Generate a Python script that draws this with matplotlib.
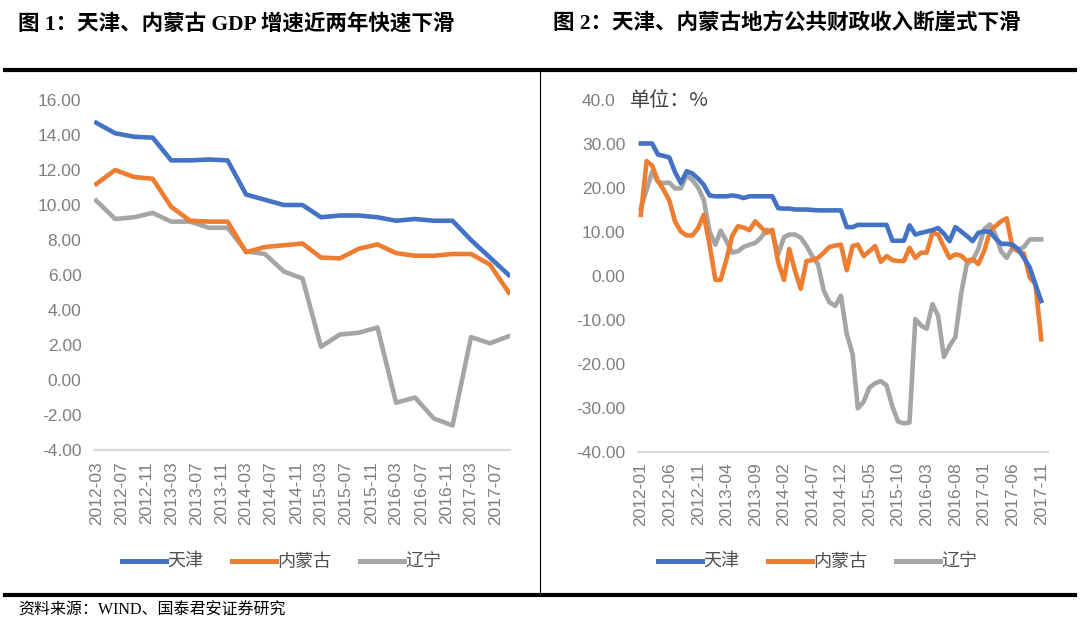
import numpy as np
import pandas as pd
import matplotlib
matplotlib.use('Agg')
import matplotlib.pyplot as plt
from matplotlib.lines import Line2D

plt.rcParams['font.family'] = ['Liberation Sans', 'Noto Sans CJK SC', 'DejaVu Sans']

BLUE = '#4472C4'
ORANGE = '#ED7D31'
GRAY = '#A5A5A5'
names = ['天津', '内蒙古', '辽宁']

# 图1: GDP 累计同比 (quarterly)
gdp_dates = pd.date_range('2012-03-01', '2017-09-01', freq='3MS')
gdp_tj = [14.7, 14.1, 13.9, 13.85, 12.55, 12.55, 12.6, 12.55, 10.6, 10.3, 10.0, 10.0,
          9.3, 9.4, 9.4, 9.3, 9.1, 9.2, 9.1, 9.1, 8.0, 7.0, 6.0]
gdp_nmg = [11.2, 12.0, 11.6, 11.5, 9.9, 9.1, 9.05, 9.05, 7.3, 7.6, 7.7, 7.8,
           7.0, 6.95, 7.5, 7.75, 7.25, 7.1, 7.1, 7.2, 7.2, 6.6, 5.0]
gdp_ln = [10.25, 9.2, 9.3, 9.55, 9.05, 9.05, 8.7, 8.7, 7.35, 7.2, 6.2, 5.8,
          1.9, 2.6, 2.7, 3.0, -1.3, -1.0, -2.2, -2.6, 2.45, 2.1, 2.5]
gdp_ticks = pd.date_range('2012-03-01', '2017-07-01', freq='4MS')
gdp_yticks = [-4, -2, 0, 2, 4, 6, 8, 10, 12, 14, 16]
gdp_ylabels = ['-4.00', '-2.00', '0.00', '2.00', '4.00', '6.00', '8.00',
               '10.00', '12.00', '14.00', '16.00']

# 图2: 地方公共财政收入累计同比 (monthly)
fis_dates = pd.date_range('2012-01-01', '2017-11-01', freq='MS')
fis_tj = [30.0, 30.0, 30.0, 27.5, 27.2, 26.8, 23.5, 21.0, 23.7, 23.2, 22.0, 20.6,
          18.2, 18.0, 18.0, 18.0, 18.2, 18.0, 17.6, 18.0, 18.0, 18.0, 18.0, 18.0,
          15.3, 15.2, 15.2, 15.0, 15.0, 15.0, 14.9, 14.8, 14.8, 14.8, 14.8, 14.8,
          11.0, 11.0, 11.5, 11.5, 11.5, 11.5, 11.5, 11.5, 7.9, 7.9, 7.9, 11.4,
          9.3, 9.7, 10.0, 10.3, 10.8, 9.5, 7.8, 11.0, 10.0, 9.0, 7.8, 9.7,
          10.0, 10.0, 8.5, 7.2, 7.2, 7.0, 6.0, 4.0, 1.8, -2.0, -5.8]
fis_nmg = [13.8, 26.0, 25.0, 21.5, 19.5, 17.0, 12.3, 10.0, 9.1, 9.1, 10.8, 13.8,
           7.0, -1.0, -1.0, 3.7, 9.0, 11.2, 10.9, 10.3, 12.3, 11.0, 9.7, 10.4,
           3.0, -1.0, 6.0, 1.0, -3.0, 3.3, 3.5, 4.0, 5.2, 6.5, 6.8, 7.0,
           1.2, 6.7, 7.0, 4.4, 5.5, 6.7, 3.1, 4.4, 3.5, 3.3, 3.3, 6.3,
           4.0, 5.2, 5.2, 9.7, 9.3, 6.5, 4.0, 4.8, 4.5, 3.3, 3.7, 2.6,
           5.5, 10.0, 11.2, 12.3, 13.0, 6.3, 5.5, 5.0, -0.5, -2.0, -14.5]
fis_ln = [15.3, 19.5, 23.6, 21.3, 21.0, 21.1, 19.8, 19.8, 22.8, 21.7, 20.0, 17.2,
          10.0, 7.0, 10.2, 7.8, 5.2, 5.5, 6.5, 7.0, 7.4, 8.6, 10.4, 9.7,
          4.8, 8.7, 9.3, 9.3, 8.6, 6.7, 4.4, 2.5, -3.5, -6.1, -6.9, -4.6,
          -13.3, -17.8, -30.2, -28.7, -25.5, -24.5, -24.0, -25.0, -29.8, -33.2, -33.6, -33.4,
          -9.9, -11.4, -12.1, -6.5, -9.1, -18.5, -16.0, -14.0, -4.0, 2.6, 3.5, 6.0,
          10.5, 11.6, 9.5, 5.5, 4.0, 6.3, 5.8, 6.5, 8.2, 8.2, 8.2]
fis_ticks = pd.date_range('2012-01-01', '2017-11-01', freq='5MS')
fis_yticks = [-40, -30, -20, -10, 0, 10, 20, 30, 40]
fis_ylabels = ['-40.00', '-30.00', '-20.00', '-10.00', '0.00', '10.00', '20.00',
               '30.00', '40.00']


def style_axis(ax, ticks, yticks, ylabels):
    for s in ['top', 'left', 'right']:
        ax.spines[s].set_visible(False)
    ax.spines['bottom'].set_color('#D9D9D9')
    ax.spines['bottom'].set_linewidth(1.5)
    ax.set_xticks(ticks)
    ax.set_xticklabels([t.strftime('%Y-%m') for t in ticks], rotation=90,
                       fontsize=12.5, color='#7F7F7F')
    ax.set_yticks(yticks)
    ax.set_yticklabels(ylabels, fontsize=12.5, color='#7F7F7F')
    ax.tick_params(axis='both', length=0)
    ax.tick_params(axis='x', pad=8)
    ax.tick_params(axis='y', pad=9)


def add_legend(ax, cx, cy):
    handles = [Line2D([], [], color=c, lw=3.6) for c in [BLUE, ORANGE, GRAY]]
    ax.legend(handles, names, loc='center', bbox_to_anchor=(cx, cy),
              bbox_transform=fig.transFigure, ncol=3, frameon=False,
              prop={'family': 'Noto Sans CJK SC', 'size': 13},
              labelcolor='#505050', handlelength=2.4, handletextpad=0.1,
              columnspacing=1.6)


fig = plt.figure(figsize=(10.8, 6.27), dpi=100)
W, H = 1080, 627

ax1 = fig.add_axes([94 / W, (H - 450) / H, 416 / W, 350 / H])
for vals, c in zip([gdp_tj, gdp_nmg, gdp_ln][::-1], [BLUE, ORANGE, GRAY][::-1]):
    ax1.plot(gdp_dates, vals, color=c, lw=3.3, solid_joinstyle='round')
ax1.set_ylim(-4, 16)
ax1.set_xlim(pd.Timestamp('2012-02-19'), pd.Timestamp('2017-09-07'))
style_axis(ax1, gdp_ticks, gdp_yticks, gdp_ylabels)
add_legend(ax1, 282 / W, 1 - 562 / H)

ax2 = fig.add_axes([638 / W, (H - 451.5) / H, 410 / W, 352 / H])
for vals, c in zip([fis_tj, fis_nmg, fis_ln][::-1], [BLUE, ORANGE, GRAY][::-1]):
    ax2.plot(fis_dates, vals, color=c, lw=3.3, solid_joinstyle='round')
ax2.set_ylim(-40, 40)
ax2.set_xlim(pd.Timestamp('2011-12-17'), pd.Timestamp('2017-12-07'))
style_axis(ax2, fis_ticks, fis_yticks, fis_ylabels)
add_legend(ax2, 818 / W, 1 - 562 / H)

# titles and frame
title_font = ['Liberation Serif', 'Noto Sans CJK SC']
fig.text(18 / W, 1 - 24 / H, '图 1：天津、内蒙古 GDP 增速近两年快速下滑',
         family=title_font, fontsize=15.5, fontweight='bold', va='center')
fig.text(553 / W, 1 - 24 / H, '图 2：天津、内蒙古地方公共财政收入断崖式下滑',
         family=title_font, fontsize=15.5, fontweight='bold', va='center')
fig.text(630 / W, 1 - 101 / H, '单位：%', family=['Noto Sans CJK SC'],
         fontsize=14.5, color='#404040', va='center', zorder=5,
         bbox=dict(boxstyle='square,pad=0.8', fc='white', ec='none'))
fig.text(18 / W, 1 - 611 / H, '资料来源：WIND、国泰君安证券研究',
         family=title_font, fontsize=11.5, va='center')

fig.add_artist(Line2D([5 / W, 1075 / W], [1 - 70 / H, 1 - 70 / H], color='black', lw=3))
fig.add_artist(Line2D([5 / W, 1075 / W], [1 - 595 / H, 1 - 595 / H], color='black', lw=3))
fig.add_artist(Line2D([540 / W, 540 / W], [1 - 70 / H, 1 - 595 / H], color='black', lw=0.8))

plt.savefig('out.png', dpi=100)
